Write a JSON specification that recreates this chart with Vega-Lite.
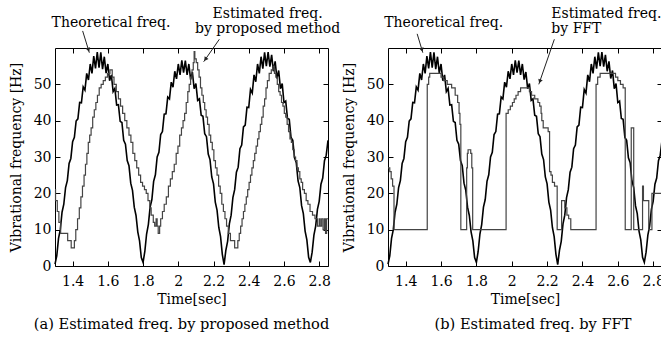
{
  "$schema": "https://vega.github.io/schema/vega-lite/v6.json",
  "background": "white",
  "padding": {"left": 8, "top": 6, "right": 0, "bottom": 4},
  "config": {
    "font": "DejaVu Serif",
    "view": {"stroke": "black", "strokeWidth": 1},
    "axis": {"labelFont": "DejaVu Serif", "titleFont": "DejaVu Serif", "labelFontSize": 14, "titleFontSize": 14, "labelColor": "black", "titleColor": "black", "titleFontWeight": "normal", "grid": false, "domain": false, "tickColor": "black", "tickWidth": 1, "tickSize": -5, "labelFlush": false},
    "title": {"font": "DejaVu Serif", "fontSize": 14.6, "fontWeight": "normal", "color": "black"},
    "text": {"font": "DejaVu Serif", "fontSize": 14, "color": "black"}
  },
  "datasets": {
    "theo": [
      {"t":1.30,"f":0.5},{"t":1.31,"f":2.8},{"t":1.32,"f":7.6},{"t":1.33,"f":10.0},{"t":1.34,"f":14.8},{"t":1.35,"f":17.0},{"t":1.36,"f":21.6},{"t":1.37,"f":23.5},{"t":1.38,"f":28.2},{"t":1.39,"f":29.6},
      {"t":1.40,"f":34.2},{"t":1.41,"f":35.4},{"t":1.42,"f":39.9},{"t":1.43,"f":40.5},{"t":1.44,"f":45.0},{"t":1.45,"f":44.9},{"t":1.46,"f":49.3},{"t":1.47,"f":48.4},{"t":1.48,"f":53.0},{"t":1.49,"f":51.2},
      {"t":1.50,"f":55.6},{"t":1.51,"f":53.0},{"t":1.52,"f":57.8},{"t":1.53,"f":54.4},{"t":1.54,"f":58.9},{"t":1.55,"f":54.6},{"t":1.56,"f":58.8},{"t":1.57,"f":54.2},{"t":1.58,"f":57.6},{"t":1.59,"f":53.1},
      {"t":1.60,"f":55.6},{"t":1.61,"f":51.0},{"t":1.62,"f":52.6},{"t":1.63,"f":48.0},{"t":1.64,"f":48.9},{"t":1.65,"f":44.3},{"t":1.66,"f":44.4},{"t":1.67,"f":39.8},{"t":1.68,"f":39.5},{"t":1.69,"f":34.6},
      {"t":1.70,"f":33.5},{"t":1.71,"f":29.0},{"t":1.72,"f":27.6},{"t":1.73,"f":22.8},{"t":1.74,"f":20.8},{"t":1.75,"f":16.2},{"t":1.76,"f":13.9},{"t":1.77,"f":9.4},{"t":1.78,"f":6.9},{"t":1.79,"f":2.3},
      {"t":1.80,"f":1.0},{"t":1.81,"f":4.0},{"t":1.82,"f":8.8},{"t":1.83,"f":11.4},{"t":1.84,"f":16.2},{"t":1.85,"f":18.3},{"t":1.86,"f":23.3},{"t":1.87,"f":25.1},{"t":1.88,"f":30.0},{"t":1.89,"f":31.3},
      {"t":1.90,"f":36.2},{"t":1.91,"f":37.0},{"t":1.92,"f":41.8},{"t":1.93,"f":41.9},{"t":1.94,"f":46.5},{"t":1.95,"f":46.0},{"t":1.96,"f":50.6},{"t":1.97,"f":49.2},{"t":1.98,"f":53.6},{"t":1.99,"f":51.5},
      {"t":2.00,"f":55.6},{"t":2.01,"f":52.6},{"t":2.02,"f":56.6},{"t":2.03,"f":53.2},{"t":2.04,"f":56.5},{"t":2.05,"f":52.6},{"t":2.06,"f":55.6},{"t":2.07,"f":51.3},{"t":2.08,"f":53.4},{"t":2.09,"f":48.8},
      {"t":2.10,"f":50.2},{"t":2.11,"f":45.6},{"t":2.12,"f":46.0},{"t":2.13,"f":41.5},{"t":2.14,"f":41.2},{"t":2.15,"f":36.4},{"t":2.16,"f":35.6},{"t":2.17,"f":30.8},{"t":2.18,"f":29.3},{"t":2.19,"f":24.5},
      {"t":2.20,"f":22.6},{"t":2.21,"f":17.6},{"t":2.22,"f":15.4},{"t":2.23,"f":10.6},{"t":2.24,"f":8.1},{"t":2.25,"f":3.2},{"t":2.26,"f":0.4},{"t":2.27,"f":4.3},{"t":2.28,"f":6.8},{"t":2.29,"f":11.6},
      {"t":2.30,"f":14.0},{"t":2.31,"f":18.8},{"t":2.32,"f":21.0},{"t":2.33,"f":25.8},{"t":2.34,"f":27.2},{"t":2.35,"f":32.3},{"t":2.36,"f":33.3},{"t":2.37,"f":38.3},{"t":2.38,"f":38.8},{"t":2.39,"f":43.7},
      {"t":2.40,"f":43.6},{"t":2.41,"f":48.6},{"t":2.42,"f":47.6},{"t":2.43,"f":52.6},{"t":2.44,"f":50.7},{"t":2.45,"f":55.6},{"t":2.46,"f":53.0},{"t":2.47,"f":57.6},{"t":2.48,"f":54.3},{"t":2.49,"f":58.8},
      {"t":2.50,"f":55.0},{"t":2.51,"f":58.9},{"t":2.52,"f":54.9},{"t":2.53,"f":58.1},{"t":2.54,"f":53.6},{"t":2.55,"f":56.3},{"t":2.56,"f":51.6},{"t":2.57,"f":53.8},{"t":2.58,"f":48.8},{"t":2.59,"f":50.2},
      {"t":2.60,"f":45.0},{"t":2.61,"f":45.4},{"t":2.62,"f":40.6},{"t":2.63,"f":40.4},{"t":2.64,"f":35.4},{"t":2.65,"f":34.6},{"t":2.66,"f":29.8},{"t":2.67,"f":28.4},{"t":2.68,"f":23.4},{"t":2.69,"f":21.6},
      {"t":2.70,"f":16.6},{"t":2.71,"f":14.4},{"t":2.72,"f":9.6},{"t":2.73,"f":7.2},{"t":2.74,"f":2.4},{"t":2.75,"f":1.0},{"t":2.76,"f":3.8},{"t":2.77,"f":8.5},{"t":2.78,"f":11.0},{"t":2.79,"f":15.6},
      {"t":2.80,"f":17.8},{"t":2.81,"f":22.5},{"t":2.82,"f":24.2},{"t":2.83,"f":29.0},{"t":2.84,"f":30.5},{"t":2.85,"f":34.6}
    ],
    "estA": [
      {"t":1.300,"f":21},{"t":1.303,"f":18},{"t":1.313,"f":15},{"t":1.322,"f":12},{"t":1.332,"f":9},{"t":1.372,"f":7},{"t":1.392,"f":5},{"t":1.410,"f":7},{"t":1.418,"f":10},{"t":1.428,"f":13},
      {"t":1.438,"f":16},{"t":1.447,"f":19},{"t":1.456,"f":22},{"t":1.465,"f":25},{"t":1.473,"f":28},{"t":1.481,"f":31},{"t":1.489,"f":34},{"t":1.497,"f":36},{"t":1.505,"f":38},{"t":1.514,"f":41},
      {"t":1.523,"f":43},{"t":1.532,"f":45},{"t":1.541,"f":47},{"t":1.551,"f":49},{"t":1.562,"f":50},{"t":1.574,"f":51},{"t":1.586,"f":52},{"t":1.598,"f":53},{"t":1.612,"f":54},{"t":1.625,"f":52},
      {"t":1.635,"f":50},{"t":1.648,"f":48},{"t":1.660,"f":46},{"t":1.672,"f":44},{"t":1.684,"f":42},{"t":1.696,"f":40},{"t":1.708,"f":38},{"t":1.720,"f":36},{"t":1.731,"f":34},{"t":1.742,"f":31},
      {"t":1.753,"f":29},{"t":1.764,"f":27},{"t":1.775,"f":25},{"t":1.786,"f":23},{"t":1.797,"f":22},{"t":1.808,"f":21},{"t":1.818,"f":20},{"t":1.828,"f":18},{"t":1.838,"f":16},{"t":1.846,"f":14},
      {"t":1.858,"f":12},{"t":1.866,"f":11},{"t":1.874,"f":13},{"t":1.880,"f":11},{"t":1.886,"f":9},{"t":1.894,"f":11},{"t":1.900,"f":13},{"t":1.910,"f":15},{"t":1.920,"f":17},{"t":1.932,"f":19},
      {"t":1.944,"f":22},{"t":1.955,"f":24},{"t":1.966,"f":26},{"t":1.977,"f":28},{"t":1.988,"f":31},{"t":1.998,"f":33},{"t":2.008,"f":36},{"t":2.018,"f":38},{"t":2.027,"f":40},{"t":2.036,"f":42},
      {"t":2.045,"f":45},{"t":2.054,"f":48},{"t":2.062,"f":50},{"t":2.070,"f":52},{"t":2.078,"f":54},{"t":2.085,"f":56},{"t":2.090,"f":59},{"t":2.094,"f":57},{"t":2.102,"f":56},{"t":2.110,"f":54},
      {"t":2.118,"f":52},{"t":2.126,"f":49},{"t":2.134,"f":47},{"t":2.142,"f":45},{"t":2.150,"f":43},{"t":2.158,"f":41},{"t":2.166,"f":39},{"t":2.175,"f":36},{"t":2.184,"f":34},{"t":2.193,"f":32},
      {"t":2.202,"f":29},{"t":2.211,"f":27},{"t":2.220,"f":25},{"t":2.229,"f":22},{"t":2.238,"f":20},{"t":2.247,"f":17},{"t":2.256,"f":15},{"t":2.265,"f":13},{"t":2.274,"f":11},{"t":2.284,"f":9},
      {"t":2.296,"f":7},{"t":2.320,"f":5},{"t":2.338,"f":7},{"t":2.346,"f":9},{"t":2.354,"f":11},{"t":2.362,"f":13},{"t":2.370,"f":15},{"t":2.378,"f":17},{"t":2.386,"f":19},{"t":2.394,"f":21},
      {"t":2.402,"f":23},{"t":2.410,"f":25},{"t":2.418,"f":27},{"t":2.426,"f":29},{"t":2.434,"f":31},{"t":2.442,"f":33},{"t":2.450,"f":35},{"t":2.458,"f":37},{"t":2.466,"f":39},{"t":2.474,"f":41},
      {"t":2.482,"f":44},{"t":2.490,"f":46},{"t":2.498,"f":49},{"t":2.506,"f":51},{"t":2.516,"f":53},{"t":2.528,"f":54},{"t":2.538,"f":55},{"t":2.546,"f":53},{"t":2.554,"f":52},{"t":2.562,"f":50},
      {"t":2.570,"f":48},{"t":2.578,"f":47},{"t":2.586,"f":45},{"t":2.594,"f":44},{"t":2.602,"f":42},{"t":2.610,"f":41},{"t":2.618,"f":39},{"t":2.626,"f":37},{"t":2.634,"f":35},{"t":2.642,"f":34},
      {"t":2.650,"f":32},{"t":2.658,"f":30},{"t":2.666,"f":29},{"t":2.674,"f":27},{"t":2.682,"f":26},{"t":2.690,"f":24},{"t":2.698,"f":23},{"t":2.706,"f":21},{"t":2.716,"f":20},{"t":2.726,"f":18},
      {"t":2.736,"f":17},{"t":2.748,"f":15},{"t":2.762,"f":14},{"t":2.776,"f":13},{"t":2.790,"f":11},{"t":2.800,"f":13},{"t":2.806,"f":11},{"t":2.814,"f":13},{"t":2.822,"f":10},{"t":2.830,"f":13},
      {"t":2.836,"f":9},{"t":2.842,"f":13},{"t":2.850,"f":13}
    ],
    "estB": [
      {"t":1.300,"f":27},{"t":1.310,"f":26},{"t":1.318,"f":24},{"t":1.326,"f":22},{"t":1.334,"f":10},{"t":1.522,"f":50},{"t":1.530,"f":52},{"t":1.536,"f":53},{"t":1.600,"f":52},{"t":1.615,"f":51},
      {"t":1.635,"f":50},{"t":1.660,"f":49},{"t":1.680,"f":47},{"t":1.694,"f":45},{"t":1.702,"f":42},{"t":1.707,"f":39},{"t":1.712,"f":10},{"t":1.745,"f":27},{"t":1.749,"f":31},{"t":1.753,"f":32},
      {"t":1.768,"f":31},{"t":1.774,"f":27},{"t":1.779,"f":10},{"t":1.968,"f":42},{"t":1.980,"f":43},{"t":1.992,"f":44},{"t":2.004,"f":45},{"t":2.014,"f":46},{"t":2.024,"f":47},{"t":2.036,"f":48},
      {"t":2.050,"f":49},{"t":2.100,"f":48},{"t":2.112,"f":47},{"t":2.130,"f":46},{"t":2.148,"f":45},{"t":2.158,"f":44},{"t":2.166,"f":42},{"t":2.170,"f":40},{"t":2.178,"f":38},{"t":2.206,"f":37},
      {"t":2.214,"f":26},{"t":2.222,"f":25},{"t":2.230,"f":23},{"t":2.242,"f":22},{"t":2.257,"f":10},{"t":2.282,"f":18},{"t":2.300,"f":16},{"t":2.312,"f":14},{"t":2.322,"f":13},{"t":2.334,"f":10},
      {"t":2.477,"f":50},{"t":2.486,"f":52},{"t":2.500,"f":53},{"t":2.587,"f":52},{"t":2.600,"f":51},{"t":2.615,"f":50},{"t":2.630,"f":49},{"t":2.642,"f":10},{"t":2.676,"f":38},{"t":2.690,"f":10},
      {"t":2.740,"f":22},{"t":2.745,"f":18},{"t":2.775,"f":10},{"t":2.793,"f":20},{"t":2.850,"f":20}
    ]
  },
  "spacing": 60,
  "bounds": "flush",
  "hconcat": [
    {
      "width": 273,
      "height": 218,
      "title": {"text": "(a) Estimated freq. by proposed method", "orient": "bottom", "anchor": "middle", "dx": -10, "offset": 11},
      "layer": [
        {
          "data": {"name": "theo"},
          "mark": {"type": "line", "color": "black", "strokeWidth": 1.6},
          "encoding": {
            "x": {"field": "t", "type": "quantitative", "scale": {"domain": [1.3, 2.85], "nice": false, "zero": false},
                  "axis": {"orient": "bottom", "values": [1.4, 1.6, 1.8, 2, 2.2, 2.4, 2.6, 2.8], "format": "~g", "title": "Time[sec]", "labelPadding": 13, "titlePadding": 4}},
            "y": {"field": "f", "type": "quantitative", "scale": {"domain": [0, 60], "nice": false, "zero": false},
                  "axis": {"orient": "left", "values": [0, 10, 20, 30, 40, 50], "title": "Vibrational frequency [Hz]", "labelPadding": 9, "titlePadding": 10}}
          }
        },
        {
          "data": {"name": "estA"},
          "mark": {"type": "line", "interpolate": "step-after", "color": "#444444", "strokeWidth": 1.2},
          "encoding": {
            "x": {"field": "t", "type": "quantitative", "scale": {"domain": [1.3, 2.85], "nice": false, "zero": false},
                  "axis": {"orient": "top", "values": [1.4, 1.6, 1.8, 2, 2.2, 2.4, 2.6, 2.8], "labels": false, "title": null}},
            "y": {"field": "f", "type": "quantitative", "scale": {"domain": [0, 60], "nice": false, "zero": false},
                  "axis": {"orient": "right", "values": [0, 10, 20, 30, 40, 50], "labels": false, "title": null}}
          }
        },
        {
          "data": {"values": [{"t": 1.618, "f": 66.9, "label": "Theoretical freq."}]},
          "mark": {"type": "text", "align": "center", "baseline": "middle"},
          "encoding": {"x": {"field": "t", "type": "quantitative", "axis": null}, "y": {"field": "f", "type": "quantitative", "axis": null}, "text": {"field": "label"}}
        },
        {
          "data": {"values": [{"t": 2.507, "f": 69.3, "label": "Estimated freq.\nby proposed method"}]},
          "mark": {"type": "text", "align": "center", "baseline": "middle", "lineBreak": "\n", "lineHeight": 15},
          "encoding": {"x": {"field": "t", "type": "quantitative", "axis": null}, "y": {"field": "f", "type": "quantitative", "axis": null}, "text": {"field": "label"}}
        },
        {
          "data": {"values": [{"t": 1.457, "f": 64.7, "t2": 1.495, "f2": 58.7}, {"t": 2.233, "f": 62.4, "t2": 2.144, "f2": 56.2}]},
          "mark": {"type": "rule", "color": "#222222", "strokeWidth": 1},
          "encoding": {"x": {"field": "t", "type": "quantitative", "axis": null}, "y": {"field": "f", "type": "quantitative", "axis": null}, "x2": {"field": "t2"}, "y2": {"field": "f2"}}
        },
        {
          "data": {"values": [{"t": 1.490, "f": 59.5}]},
          "mark": {"type": "point", "shape": "triangle-down", "filled": true, "size": 22, "color": "#222222", "opacity": 1, "angle": -17},
          "encoding": {"x": {"field": "t", "type": "quantitative", "axis": null}, "y": {"field": "f", "type": "quantitative", "axis": null}}
        },
        {
          "data": {"values": [{"t": 2.154, "f": 56.9}]},
          "mark": {"type": "point", "shape": "triangle-down", "filled": true, "size": 22, "color": "#222222", "opacity": 1, "angle": 35},
          "encoding": {"x": {"field": "t", "type": "quantitative", "axis": null}, "y": {"field": "f", "type": "quantitative", "axis": null}}
        }
      ]
    },
    {
      "width": 274,
      "height": 218,
      "title": {"text": "(b) Estimated freq. by FFT", "orient": "bottom", "anchor": "middle", "dx": 8, "offset": 11},
      "layer": [
        {
          "data": {"name": "theo"},
          "mark": {"type": "line", "color": "black", "strokeWidth": 1.6},
          "encoding": {
            "x": {"field": "t", "type": "quantitative", "scale": {"domain": [1.3, 2.85], "nice": false, "zero": false},
                  "axis": {"orient": "bottom", "values": [1.4, 1.6, 1.8, 2, 2.2, 2.4, 2.6, 2.8], "format": "~g", "title": "Time[sec]", "labelPadding": 13, "titlePadding": 4}},
            "y": {"field": "f", "type": "quantitative", "scale": {"domain": [0, 60], "nice": false, "zero": false},
                  "axis": {"orient": "left", "values": [0, 10, 20, 30, 40, 50], "title": "Vibrational frequency [Hz]", "labelPadding": 9, "titlePadding": 10}}
          }
        },
        {
          "data": {"name": "estB"},
          "mark": {"type": "line", "interpolate": "step-after", "color": "#444444", "strokeWidth": 1.2},
          "encoding": {
            "x": {"field": "t", "type": "quantitative", "scale": {"domain": [1.3, 2.85], "nice": false, "zero": false},
                  "axis": {"orient": "top", "values": [1.4, 1.6, 1.8, 2, 2.2, 2.4, 2.6, 2.8], "labels": false, "title": null}},
            "y": {"field": "f", "type": "quantitative", "scale": {"domain": [0, 60], "nice": false, "zero": false},
                  "axis": {"orient": "right", "values": [0, 10, 20, 30, 40, 50], "labels": false, "title": null}}
          }
        },
        {
          "data": {"values": [{"t": 1.615, "f": 66.9, "label": "Theoretical freq."}]},
          "mark": {"type": "text", "align": "center", "baseline": "middle"},
          "encoding": {"x": {"field": "t", "type": "quantitative", "axis": null}, "y": {"field": "f", "type": "quantitative", "axis": null}, "text": {"field": "label"}}
        },
        {
          "data": {"values": [{"t": 2.224, "f": 69.3, "label": "Estimated freq.\nby FFT"}]},
          "mark": {"type": "text", "align": "left", "baseline": "middle", "lineBreak": "\n", "lineHeight": 15},
          "encoding": {"x": {"field": "t", "type": "quantitative", "axis": null}, "y": {"field": "f", "type": "quantitative", "axis": null}, "text": {"field": "label"}}
        },
        {
          "data": {"values": [{"t": 1.465, "f": 63.9, "t2": 1.497, "f2": 58.7}, {"t": 2.241, "f": 62.4, "t2": 2.153, "f2": 50.0}]},
          "mark": {"type": "rule", "color": "#222222", "strokeWidth": 1},
          "encoding": {"x": {"field": "t", "type": "quantitative", "axis": null}, "y": {"field": "f", "type": "quantitative", "axis": null}, "x2": {"field": "t2"}, "y2": {"field": "f2"}}
        },
        {
          "data": {"values": [{"t": 1.492, "f": 59.5}]},
          "mark": {"type": "point", "shape": "triangle-down", "filled": true, "size": 22, "color": "#222222", "opacity": 1, "angle": -17},
          "encoding": {"x": {"field": "t", "type": "quantitative", "axis": null}, "y": {"field": "f", "type": "quantitative", "axis": null}}
        },
        {
          "data": {"values": [{"t": 2.159, "f": 50.8}]},
          "mark": {"type": "point", "shape": "triangle-down", "filled": true, "size": 22, "color": "#222222", "opacity": 1, "angle": 19},
          "encoding": {"x": {"field": "t", "type": "quantitative", "axis": null}, "y": {"field": "f", "type": "quantitative", "axis": null}}
        }
      ]
    }
  ]
}
